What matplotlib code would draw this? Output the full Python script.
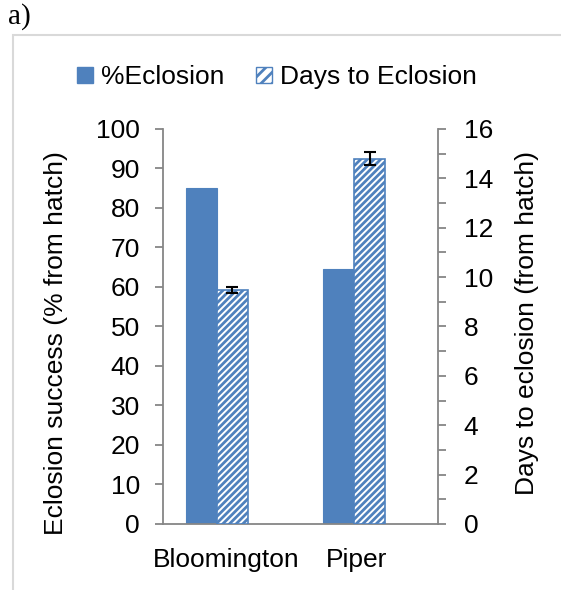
import matplotlib
matplotlib.use("Agg")
import matplotlib.pyplot as plt
from matplotlib.patches import Patch, Rectangle
from matplotlib.ticker import MultipleLocator
import numpy as np

# data
sites = ["Bloomington", "Piper"]
eclosion_pct = [85.0, 64.5]
days_to_eclosion = [9.47, 14.8]
days_err = [0.12, 0.25]

blue = "#4F81BD"
grey = "#868686"

plt.rcParams["font.family"] = ["Liberation Sans", "DejaVu Sans"]
plt.rcParams["hatch.linewidth"] = 2.0

fig = plt.figure(figsize=(5.61, 5.90), dpi=100)
ax = fig.add_axes([0.2906, 0.1119, 0.4902, 0.6695])
ax2 = ax.twinx()

x = np.arange(len(sites))
w = 0.226
ax.bar(x - w / 2, eclosion_pct, width=w, color=blue, edgecolor=blue, linewidth=0.8, zorder=2)
ax2.bar(x + w / 2, days_to_eclosion, width=w, color="white", edgecolor=blue,
        hatch="/////", linewidth=1.2, zorder=2)
ax2.errorbar(x + w / 2, days_to_eclosion, yerr=days_err, fmt="none", ecolor="black",
             elinewidth=1.5, capsize=4.5, capthick=1.5, zorder=3)

ax.set_xlim(-0.394, 1.613)
ax.set_ylim(0, 100)
ax2.set_ylim(0, 16)
ax.yaxis.set_major_locator(MultipleLocator(10))
ax2.yaxis.set_major_locator(MultipleLocator(2))
ax2.yaxis.set_minor_locator(MultipleLocator(1))

# labels sit slightly off the group centres, as in the original
ax.set_xticks(x + np.array([0.07, 0.015]))
ax.set_xticklabels(sites)

for a in (ax, ax2):
    a.spines["top"].set_visible(False)
    for s in ("left", "right", "bottom"):
        a.spines[s].set_color(grey)
        a.spines[s].set_linewidth(1.3)
ax.spines["right"].set_visible(False)
ax2.spines["left"].set_visible(False)
ax2.spines["bottom"].set_visible(False)

ax.tick_params(axis="x", length=0, pad=17, labelsize=19)
ax.tick_params(axis="y", direction="out", length=5.5, width=1.3, color=grey, pad=11, labelsize=19)
ax2.tick_params(axis="y", which="both", direction="out", length=5.5, width=1.3, color=grey,
                pad=13, labelsize=19)

ax.set_ylabel("Eclosion success (% from hatch)", fontsize=19)
ax.yaxis.set_label_coords(-0.345, 0.458)
ax2.set_ylabel("Days to eclosion (from hatch)", fontsize=19)
ax2.yaxis.set_label_coords(1.28, 0.51)

handles = [Patch(facecolor=blue, edgecolor=blue),
           Patch(facecolor="white", edgecolor=blue, hatch="///")]
fig.legend(handles, ["%Eclosion", "Days to Eclosion"], loc="center",
           bbox_to_anchor=(0.494, 0.869), ncol=2, frameon=False, fontsize=19,
           handlelength=0.6, handleheight=0.6, handletextpad=0.3, columnspacing=1.2)

# outer frame
fig.patches.append(Rectangle((13 / 561, -0.1), 1.2, 1 - 35 / 590 + 0.1,
                             transform=fig.transFigure, fill=False,
                             edgecolor="#d9d9d9", linewidth=1.5))
fig.text(8 / 561, 1 - 17 / 590, "a)", family="Liberation Serif", fontsize=21,
         va="center", ha="left")

fig.savefig("out.png", dpi=100)
